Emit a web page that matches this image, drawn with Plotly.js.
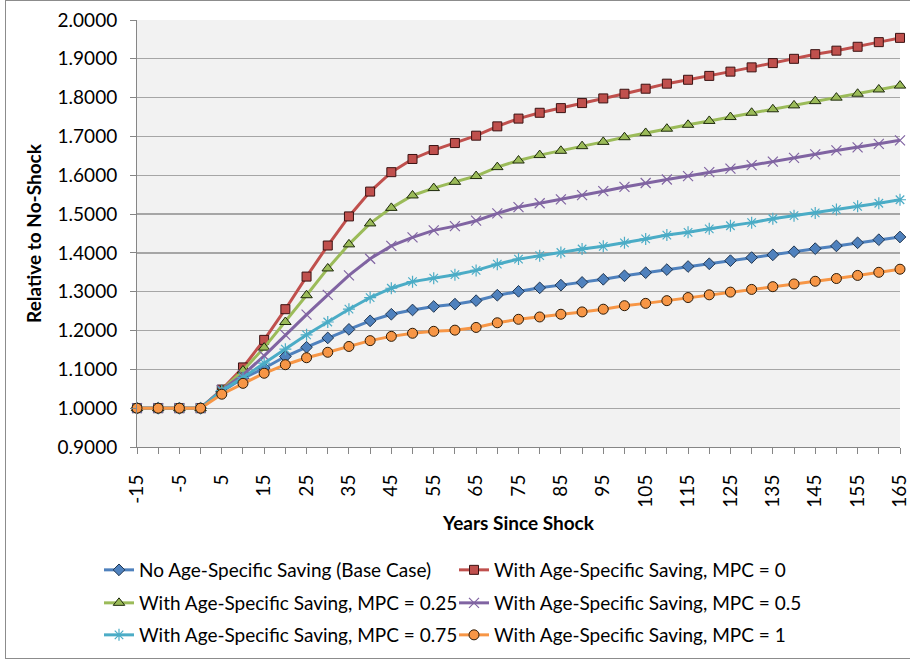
<!DOCTYPE html>
<html>
<head>
<meta charset="utf-8">
<script src="https://cdn.plot.ly/plotly-3.0.1.min.js"></script>
<style>
html,body{margin:0;padding:0;background:#fff;}
#wrap{position:relative;width:910px;height:659px;}
#chart{width:910px;height:659px;}
#frame{position:absolute;left:5px;top:0px;width:910px;height:659px;border:1px solid #8c8c8c;box-sizing:border-box;pointer-events:none;}
</style>
</head>
<body>
<div id="wrap"><div id="chart"></div><div id="frame"></div></div>
<script>
const years = [-15,-10,-5,0,5,10,15,20,25,30,35,40,45,50,55,60,65,70,75,80,85,90,95,100,105,110,115,120,125,130,135,140,145,150,155,160,165];

const seriesNames = [
  "No Age-Specific Saving (Base Case)",
  "With Age-Specific Saving, MPC = 0",
  "With Age-Specific Saving, MPC = 0.25",
  "With Age-Specific Saving, MPC = 0.5",
  "With Age-Specific Saving, MPC = 0.75",
  "With Age-Specific Saving, MPC = 1"
];

const baseCase = [1,1,1,1,1.043,1.077,1.103,1.133,1.157,1.181,1.203,1.225,1.242,1.253,1.262,1.268,1.277,1.291,1.301,1.310,1.317,1.324,1.332,1.341,1.349,1.357,1.365,1.372,1.380,1.388,1.395,1.403,1.411,1.418,1.426,1.434,1.441];
const mpc0 = [1,1,1,1,1.048,1.105,1.176,1.255,1.339,1.419,1.494,1.558,1.608,1.642,1.665,1.683,1.702,1.726,1.746,1.761,1.773,1.786,1.798,1.810,1.823,1.836,1.846,1.856,1.867,1.878,1.889,1.900,1.912,1.921,1.931,1.943,1.954];
const mpc025 = [1,1,1,1,1.047,1.097,1.156,1.222,1.291,1.360,1.422,1.476,1.516,1.548,1.567,1.583,1.598,1.621,1.638,1.652,1.663,1.675,1.686,1.698,1.709,1.720,1.730,1.740,1.750,1.761,1.770,1.780,1.791,1.800,1.810,1.821,1.831];
const mpc05 = [1,1,1,1,1.047,1.086,1.135,1.189,1.241,1.292,1.342,1.385,1.418,1.440,1.458,1.469,1.483,1.502,1.518,1.528,1.538,1.549,1.559,1.570,1.580,1.589,1.598,1.608,1.617,1.626,1.635,1.645,1.654,1.664,1.672,1.681,1.690];
const mpc075 = [1,1,1,1,1.045,1.079,1.116,1.152,1.189,1.222,1.255,1.285,1.309,1.326,1.335,1.344,1.355,1.371,1.384,1.393,1.401,1.410,1.417,1.426,1.436,1.446,1.453,1.462,1.470,1.478,1.488,1.496,1.503,1.512,1.520,1.528,1.537];
const mpc1 = [1,1,1,1,1.036,1.064,1.090,1.112,1.130,1.144,1.159,1.174,1.185,1.193,1.198,1.201,1.208,1.220,1.229,1.235,1.242,1.248,1.255,1.264,1.270,1.277,1.285,1.292,1.299,1.306,1.313,1.320,1.327,1.334,1.342,1.350,1.358];

const xTickVals = [-15,-5,5,15,25,35,45,55,65,75,85,95,105,115,125,135,145,155,165];
const yTickVals = [0.9,1.0,1.1,1.2,1.3,1.4,1.5,1.6,1.7,1.8,1.9,2.0];

const FONT = "Lato, 'Liberation Sans', Arial, sans-serif";
const FS = 19;

const styles = [
  {color:'#4F81BD', symbol:'diamond', size:9, fill:'#4F81BD', lc:'#1f3550', lw:1, legend:'legend'},
  {color:'#C0504D', symbol:'square', size:9, fill:'#C0504D', lc:'#3a1212', lw:1, legend:'legend'},
  {color:'#9BBB59', symbol:'triangle-up', size:10, fill:'#9BBB59', lc:'#1e2a0c', lw:1, legend:'legend2'},
  {color:'#8064A2', symbol:'x-thin-open', size:10, fill:'#8064A2', lc:'#8064A2', lw:1.2, legend:'legend2'},
  {color:'#4BACC6', symbol:'asterisk-open', size:10, fill:'#4BACC6', lc:'#4BACC6', lw:1.2, legend:'legend3'},
  {color:'#F79646', symbol:'circle', size:10, fill:'#F79646', lc:'#2a1a08', lw:1, legend:'legend3'}
];
const values = [baseCase, mpc0, mpc025, mpc05, mpc075, mpc1];

const traces = values.map((v,i)=>({
  type:'scatter', mode:'lines+markers', x: years, y: v, name: seriesNames[i],
  legend: styles[i].legend,
  line:{color:styles[i].color, width:3},
  marker:{symbol:styles[i].symbol, size:styles[i].size, color:styles[i].fill,
          line:{color:styles[i].lc, width:styles[i].lw}},
  cliponaxis:false
}));

function leg(y){
  return {orientation:'h', xref:'container', yref:'container', x:99/910, xanchor:'left', y:y, yanchor:'middle',
          entrywidth:310, entrywidthmode:'pixels', font:{family:FONT, size:FS, color:'#000'},
          bgcolor:'rgba(0,0,0,0)', itemwidth:30, tracegroupgap:0};
}

const layout = {
  width:910, height:659,
  margin:{l:137, r:10, t:20, b:212, autoexpand:false},
  paper_bgcolor:'#ffffff', plot_bgcolor:'#f2f2f2',
  font:{family:FONT, size:FS, color:'#000'},
  showlegend:true,
  xaxis:{
    range:[-15,165], tickmode:'array', tickvals:xTickVals, ticktext:xTickVals.map(String),
    tickangle:-90, ticks:'outside', ticklen:6, tickcolor:'#868686', tickwidth:1,
    minor:{ticks:'outside', tick0:-15, dtick:5, ticklen:6, tickcolor:'#868686', showgrid:false},
    showgrid:false, zeroline:false, showline:true, linecolor:'#868686', linewidth:1,
    ticklabelstandoff:13, ticklabeloverflow:'allow', automargin:false,
    tickfont:{family:FONT, size:FS, color:'#000'},
    title:{text:'<b>Years Since Shock</b>', font:{family:FONT, size:FS, color:'#000'}, standoff:10}
  },
  yaxis:{
    range:[0.9,2.0], tickmode:'array', tickvals:yTickVals, tickformat:'.4f',
    ticks:'outside', ticklen:6, tickcolor:'#868686', automargin:false,
    ticklabelstandoff:9, ticklabeloverflow:'allow',
    showgrid:true, gridcolor:'#a6a6a6', gridwidth:1.3, zeroline:false,
    showline:true, linecolor:'#868686', linewidth:1,
    tickfont:{family:FONT, size:FS, color:'#000'},
    title:{text:'<b>Relative to No-Shock</b>', font:{family:FONT, size:FS, color:'#000'}, standoff:10}
  },
  legend: leg(1-570/659),
  legend2: leg(1-603/659),
  legend3: leg(1-635/659)
};

Plotly.newPlot('chart', traces, layout, {displayModeBar:false, staticPlot:true});
</script>
</body>
</html>
